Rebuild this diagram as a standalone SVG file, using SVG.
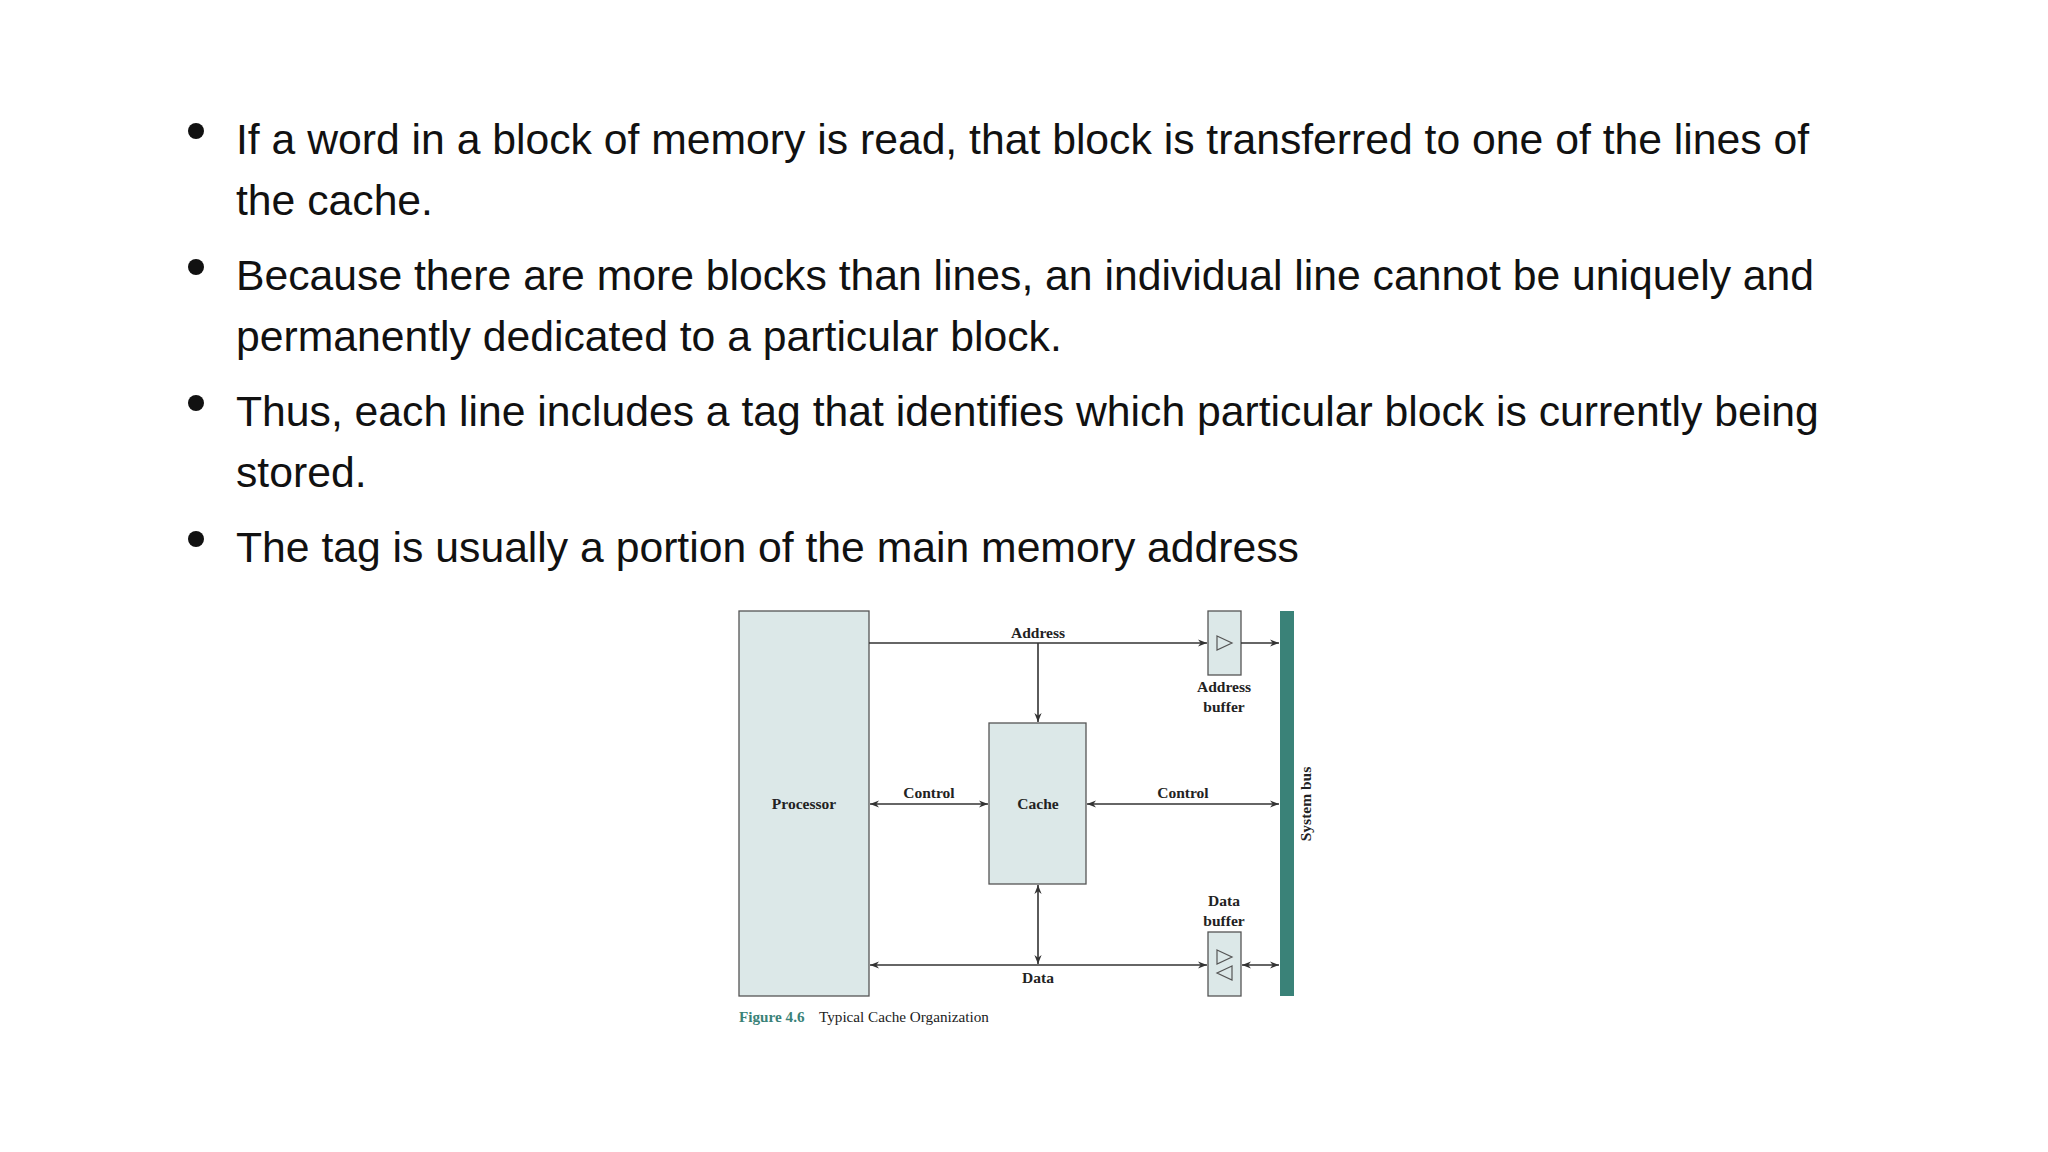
<svg xmlns="http://www.w3.org/2000/svg" width="2048" height="1152" viewBox="0 0 2048 1152">
<defs>
<style>
.b{font-family:"Liberation Sans",Arial,sans-serif;font-size:42.7px;fill:#111}
.l{font-family:"Liberation Serif","Times New Roman",serif;font-size:15.5px;font-weight:bold;fill:#222;text-anchor:middle}
.box{fill:#dce8e8;stroke:#555;stroke-width:1.3}
.ln{stroke:#333;stroke-width:1.6;fill:none}
</style>
<marker id="a" viewBox="0 0 10 10" refX="10" refY="5" markerWidth="9" markerHeight="9" markerUnits="userSpaceOnUse" orient="auto-start-reverse"><path d="M0,1 L10,5 L0,9 L3,5 Z" fill="#333"/></marker>
</defs>
<rect width="2048" height="1152" fill="#fff"/>
<g id="text">
<circle cx="196" cy="131" r="8" fill="#111"/>
<circle cx="196" cy="267" r="8" fill="#111"/>
<circle cx="196" cy="403" r="8" fill="#111"/>
<circle cx="196" cy="539" r="8" fill="#111"/>
<text class="b" x="236" y="154">If a word in a block of memory is read, that block is transferred to one of the lines of</text>
<text class="b" x="236" y="215">the cache.</text>
<text class="b" x="236" y="290">Because there are more blocks than lines, an individual line cannot be uniquely and</text>
<text class="b" x="236" y="351">permanently dedicated to a particular block.</text>
<text class="b" x="236" y="426">Thus, each line includes a tag that identifies which particular block is currently being</text>
<text class="b" x="236" y="487">stored.</text>
<text class="b" x="236" y="562">The tag is usually a portion of the main memory address</text>
</g>
<g transform="translate(-2,0)">
<g id="processor"><rect class="box" x="741" y="611" width="130" height="385"/><text class="l" x="806" y="809">Processor</text></g>
<g id="cache"><rect class="box" x="991" y="723" width="97" height="161"/><text class="l" x="1040" y="809">Cache</text></g>
<g id="address-buffer"><rect class="box" x="1210" y="611" width="33" height="64"/><path d="M1219,636 L1234,643 L1219,650 Z" fill="none" stroke="#555" stroke-width="1.2"/><text class="l" x="1226" y="692">Address</text><text class="l" x="1226" y="712">buffer</text></g>
<g id="data-buffer"><rect class="box" x="1210" y="932" width="33" height="64"/><path d="M1219,950 L1234,957 L1219,964 Z M1234,966 L1219,973 L1234,980 Z" fill="none" stroke="#555" stroke-width="1.2"/><text class="l" x="1226" y="906">Data</text><text class="l" x="1226" y="926">buffer</text></g>
<g id="system-bus"><rect x="1282" y="611" width="14" height="385" fill="#3a8278"/><text class="l" transform="translate(1313,804) rotate(-90)" x="0" y="0">System bus</text></g>
<g id="connectors">
<line class="ln" x1="871" y1="643" x2="1209" y2="643" marker-end="url(#a)"/>
<line class="ln" x1="1040" y1="643" x2="1040" y2="722" marker-end="url(#a)"/>
<line class="ln" x1="1243" y1="643" x2="1281" y2="643" marker-end="url(#a)"/>
<line class="ln" x1="872" y1="804" x2="990" y2="804" marker-start="url(#a)" marker-end="url(#a)"/>
<line class="ln" x1="1089" y1="804" x2="1281" y2="804" marker-start="url(#a)" marker-end="url(#a)"/>
<line class="ln" x1="872" y1="965" x2="1209" y2="965" marker-start="url(#a)" marker-end="url(#a)"/>
<line class="ln" x1="1040" y1="885" x2="1040" y2="964" marker-start="url(#a)" marker-end="url(#a)"/>
<line class="ln" x1="1244" y1="965" x2="1281" y2="965" marker-start="url(#a)" marker-end="url(#a)"/>
<text class="l" x="1040" y="638">Address</text>
<text class="l" x="931" y="798">Control</text>
<text class="l" x="1185" y="798">Control</text>
<text class="l" x="1040" y="983">Data</text>
</g>
<g id="caption" font-family="'Liberation Serif','Times New Roman',serif" font-size="15.2px">
<text x="741" y="1022" fill="#3a8278" font-weight="bold">Figure 4.6</text>
<text x="821" y="1022" fill="#222">Typical Cache Organization</text>
</g>
</g>
</svg>
